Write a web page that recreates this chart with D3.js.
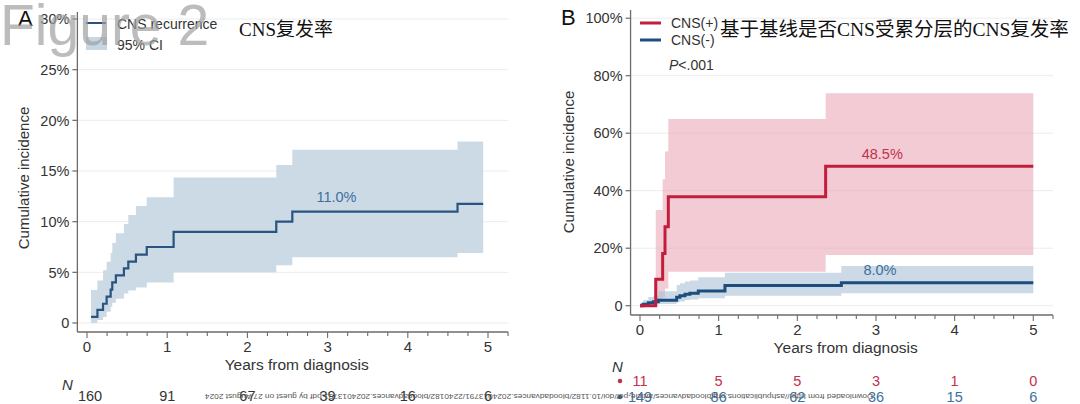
<!DOCTYPE html>
<html><head><meta charset="utf-8">
<script src="https://cdn.jsdelivr.net/npm/d3@7"></script>
<style>body{margin:0;background:#fff}svg{display:block}text{font-family:"Liberation Sans",Arial,sans-serif}</style>
</head><body><svg id="c" width="1080" height="404"></svg>
<script>
// ---- Panel A data ----
const aTime  = [0.05,0.13,0.20,0.245,0.295,0.315,0.36,0.46,0.515,0.61,0.745,1.08,2.36,2.56,4.62,4.94];
const aEst   = [0.6,1.3,1.9,2.6,3.3,4.0,4.7,5.4,6.05,6.75,7.5,9.0,10.0,11.0,11.75,11.75];
const aUpper = [3.26,4.2,5.2,6.05,6.9,7.9,8.85,9.77,10.66,11.55,12.4,14.35,15.6,17.1,17.9,17.9];
const aLower = [0.0,0.3,0.6,1.1,1.6,2.0,2.4,2.9,3.2,3.5,4.0,5.0,5.7,6.5,6.9,6.9];
const aYTicks = [0,5,10,15,20,25,30];
const aYLabels = ["0","5%","10%","15%","20%","25%","30%"];
const xTicks = [0,1,2,3,4,5];
const aRisk = [160,91,67,39,16,6];
// ---- Panel B data ----
const rTime  = [0,0.20,0.288,0.318,0.36,2.36,5.0];
const rEst   = [0,9.2,18.2,27.5,37.9,48.5,48.5];
const rUpper = [0,33.3,44,53.6,64.9,73.9,73.9];
const rLower = [0,1.5,3,6,11.8,17.6,17.6];
const bTime  = [0,0.04,0.106,0.17,0.233,0.466,0.508,0.572,0.635,0.741,1.08,2.56,5.0];
const bEst   = [0,0.5,1.0,1.4,1.9,2.9,3.5,4.0,4.3,5.1,7.0,8.0,8.0];
const bUpper = [1,2,3,3.4,5,7.2,7.8,8.4,8.8,9.9,11.5,13.8,13.8];
const bLower = [0,0,0.2,0.3,0.6,1.2,1.5,2.0,2.2,2.6,3.5,4.3,4.3];
const bYTicks = [0,20,40,60,80,100];
const bYLabels = ["0","20%","40%","60%","80%","100%"];
const riskPos = [11,5,5,3,1,0];
const riskNeg = [149,86,62,36,15,6];

const svg = d3.select("#c");
const axisCol = "#6b6b6b", txtCol = "#333";

function panel(o){
  const g = svg.append("g");
  const x = d3.scaleLinear().domain([0,5]).range(o.xr);
  const y = d3.scaleLinear().domain(o.yd).range(o.yr);
  const x0 = x(-0.12), x1 = x(5.25), yb = o.yb;
  g.selectAll(".grid").data(o.yTicks).join("line")
    .attr("x1",x0).attr("x2",x1).attr("y1",d=>y(d)).attr("y2",d=>y(d))
    .attr("stroke","#ececec").attr("stroke-width",1);
  o.series.forEach(s=>{
    const pts = s.t.map((t,i)=>({t, e:s.e[i], u:s.u[i], l:s.l[i]}));
    g.append("path").datum(pts)
      .attr("d", d3.area().curve(d3.curveStepAfter).x(d=>x(d.t)).y0(d=>y(d.l)).y1(d=>y(d.u)))
      .attr("fill", s.fill).attr("fill-opacity", s.fo);
  });
  o.series.slice().reverse().forEach(s=>{
    const pts = s.t.map((t,i)=>({t, e:s.e[i]}));
    g.append("path").datum(pts)
      .attr("d", d3.line().curve(d3.curveStepAfter).x(d=>x(d.t)).y(d=>y(d.e)))
      .attr("fill","none").attr("stroke", s.col).attr("stroke-width", s.sw);
  });
  g.append("line").attr("x1",x0).attr("x2",x0).attr("y1",o.yTop).attr("y2",yb).attr("stroke",axisCol).attr("stroke-width",1.3);
  g.selectAll(".yt").data(o.yTicks).join("line")
    .attr("x1",x0-5).attr("x2",x0).attr("y1",d=>y(d)).attr("y2",d=>y(d)).attr("stroke",axisCol).attr("stroke-width",1.2);
  g.selectAll(".yl").data(o.yTicks).join("text")
    .attr("x",x0-8).attr("y",d=>y(d)).attr("dy","0.36em").attr("text-anchor","end")
    .attr("font-size",14.5).attr("fill",txtCol).text((d,i)=>o.yLabels[i]);
  g.append("line").attr("x1",x0).attr("x2",x1).attr("y1",yb).attr("y2",yb).attr("stroke",axisCol).attr("stroke-width",1.3);
  const minor = d3.range(0,5.26,0.25);
  g.selectAll(".xm").data(minor).join("line")
    .attr("x1",d=>x(d)).attr("x2",d=>x(d)).attr("y1",yb).attr("y2",d=>yb+(Math.abs(d-Math.round(d))<1e-6?6:4))
    .attr("stroke",axisCol).attr("stroke-width",1.1);
  g.selectAll(".xl").data(xTicks).join("text")
    .attr("x",d=>x(d)).attr("y",yb+20).attr("text-anchor","middle")
    .attr("font-size",15).attr("fill",txtCol).text(d=>d);
  g.append("text").attr("x",x(2.615)).attr("y",yb+38).attr("text-anchor","middle")
    .attr("font-size",15.5).attr("fill",txtCol).text("Years from diagnosis");
  g.append("text").attr("transform",`translate(${o.ytx},${o.yty}) rotate(-90)`).attr("text-anchor","middle")
    .attr("font-size",15).attr("fill",txtCol).text("Cumulative incidence");
  return {x,y,g};
}

// Panel A
const A = panel({xr:[87,488], yd:[0,30], yr:[323,19], yb:332, yTop:12,
  yTicks:aYTicks, yLabels:aYLabels, ytx:29, yty:178,
  series:[{t:aTime,e:aEst,u:aUpper,l:aLower,col:"#28547f",fill:"#c6d6e3",fo:0.9,sw:2.2}]});
A.g.append("text").attr("x",A.x(3.11)).attr("y",A.y(11.9)).attr("text-anchor","middle")
  .attr("font-size",14.5).attr("fill","#3d6f9d").text("11.0%");
A.g.append("text").attr("x",62).attr("y",390).attr("font-size",15).attr("font-style","italic").attr("fill",txtCol).text("N");
A.g.selectAll(".risk").data(aRisk).join("text")
  .attr("x",(d,i)=>A.x(xTicks[i])+ (i===0?3:0)).attr("y",401).attr("text-anchor","middle")
  .attr("font-size",14.5).attr("fill",txtCol).text(d=>d);
A.g.append("line").attr("x1",86).attr("x2",106).attr("y1",23).attr("y2",23).attr("stroke","#28547f").attr("stroke-width",2);
A.g.append("text").attr("x",117).attr("y",29).attr("font-size",14).attr("fill",txtCol).text("CNS recurrence");
A.g.append("rect").attr("x",86).attr("y",37).attr("width",21).attr("height",13).attr("fill","#c6d6e3");
A.g.append("text").attr("x",117).attr("y",50).attr("font-size",14).attr("fill",txtCol).text("95% CI");
A.g.append("text").attr("x",18).attr("y",26).attr("font-size",22).attr("fill","#111").text("A");
A.g.append("text").attr("x",239).attr("y",36).attr("font-size",19)
  .style("font-family","'Liberation Serif','Noto Sans CJK SC',serif").attr("fill","#111").text("CNS复发率");

// Panel B
const B = panel({xr:[640,1033.3], yd:[0,100], yr:[305.7,18.2], yb:315, yTop:10,
  yTicks:bYTicks, yLabels:bYLabels, ytx:574, yty:162,
  series:[
    {t:rTime,e:rEst,u:rUpper,l:rLower,col:"#c21d3d",fill:"#e8a0b0",fo:0.55,sw:3},
    {t:bTime,e:bEst,u:bUpper,l:bLower,col:"#1c4d7c",fill:"#a9c1d6",fo:0.6,sw:3}
  ]});
B.g.append("text").attr("x",B.x(3.08)).attr("y",B.y(51)).attr("text-anchor","middle")
  .attr("font-size",14.5).attr("fill","#c4304f").text("48.5%");
B.g.append("text").attr("x",B.x(3.05)).attr("y",B.y(10.8)).attr("text-anchor","middle")
  .attr("font-size",14.5).attr("fill","#3d6f9d").text("8.0%");
B.g.append("text").attr("x",612).attr("y",372).attr("font-size",15).attr("font-style","italic").attr("fill",txtCol).text("N");
B.g.append("circle").attr("cx",620).attr("cy",381).attr("r",2.3).attr("fill","#c4304f");
B.g.append("circle").attr("cx",620).attr("cy",397).attr("r",2.3).attr("fill","#2d6595");
B.g.selectAll(".rp").data(riskPos).join("text")
  .attr("x",(d,i)=>B.x(xTicks[i])).attr("y",386).attr("text-anchor","middle")
  .attr("font-size",14.5).attr("fill","#c4304f").text(d=>d);
B.g.selectAll(".rn").data(riskNeg).join("text")
  .attr("x",(d,i)=>B.x(xTicks[i])).attr("y",402).attr("text-anchor","middle")
  .attr("font-size",14.5).attr("fill","#3d6f9d").text(d=>d);
B.g.append("line").attr("x1",640).attr("x2",661).attr("y1",23).attr("y2",23).attr("stroke","#c21d3d").attr("stroke-width",3);
B.g.append("line").attr("x1",640).attr("x2",661).attr("y1",40).attr("y2",40).attr("stroke","#1c4d7c").attr("stroke-width",3);
B.g.append("text").attr("x",671).attr("y",28).attr("font-size",14).attr("fill",txtCol).text("CNS(+)");
B.g.append("text").attr("x",671).attr("y",45).attr("font-size",14).attr("fill",txtCol).text("CNS(-)");
const pt = B.g.append("text").attr("x",669).attr("y",70).attr("font-size",14).attr("fill",txtCol);
pt.append("tspan").attr("font-style","italic").text("P");
pt.append("tspan").text("<.001");
B.g.append("text").attr("x",561).attr("y",25).attr("font-size",22).attr("fill","#111").text("B");
B.g.append("text").attr("x",720).attr("y",36).attr("font-size",19.5)
  .style("font-family","'Liberation Serif','Noto Sans CJK SC',serif").attr("fill","#111").text("基于基线是否CNS受累分层的CNS复发率");

// Watermarks
svg.append("text").attr("x",0).attr("y",45).attr("font-size",57).attr("fill","#a0a0a0").attr("fill-opacity",0.7)
  .text("Figure 2");
svg.append("text").attr("transform","translate(873,394) rotate(180)")
  .attr("font-size",7.5).attr("fill","#555").attr("textLength",668).attr("lengthAdjust","spacingAndGlyphs")
  .text("Downloaded from http://ashpublications.org/bloodadvances/article-pdf/doi/10.1182/bloodadvances.2024013791/2240182/bloodadvances.2024013791.pdf by guest on 27 August 2024");
</script></body></html>
